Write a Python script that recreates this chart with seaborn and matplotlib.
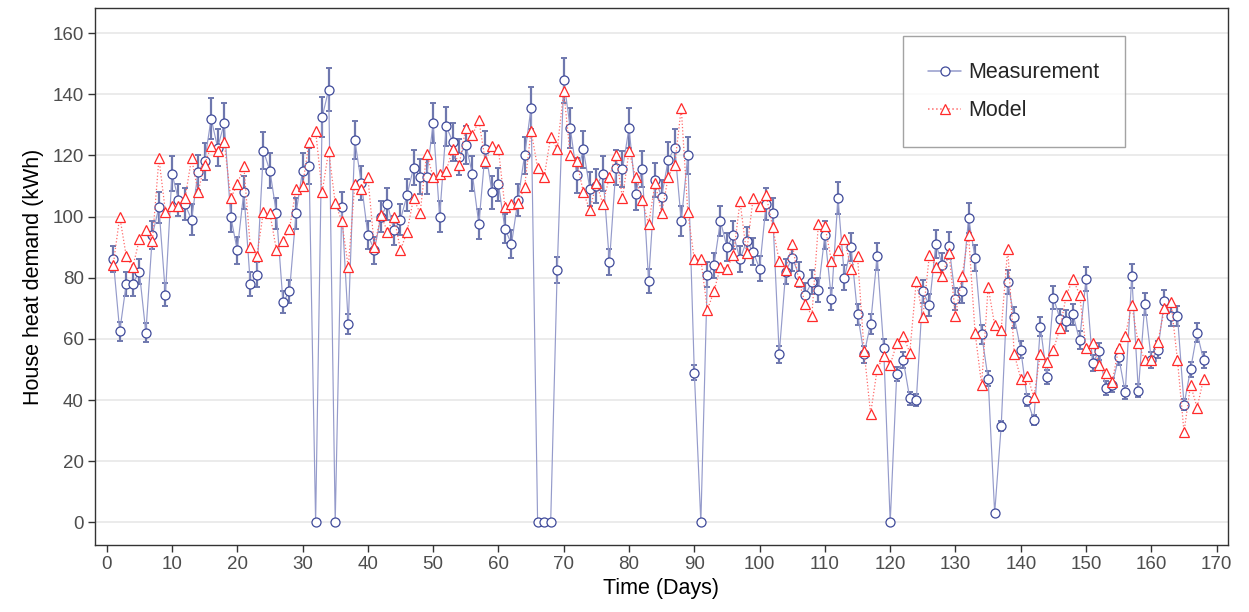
import numpy as np
import pandas as pd
import matplotlib
matplotlib.use("Agg")
import matplotlib.pyplot as plt
import seaborn as sns
from matplotlib.lines import Line2D

days = list(range(1, 169))

measurement = [
    86, 62.5, 78, 78, 82, 62, 94, 103, 74.5, 114,
    105.5, 104, 99, 114.5, 118, 132, 122.5, 130.5, 100, 89,
    108, 78, 81, 121.5, 115, 101, 72, 75.5, 101, 115,
    116.5, 0, 132.5, 141.5, 0, 103, 65, 125, 111, 94,
    89, 100, 104, 95.5, 99, 107, 116, 113, 113, 130.5,
    100, 129.5, 124.5, 119.5, 123.5, 114, 97.5, 122, 108, 110.5,
    96, 91, 105.5, 120, 135.5, 0, 0, 0, 82.5, 144.5,
    129, 113.5, 122, 109, 110, 114, 85, 116, 115.5, 129,
    107.5, 115.5, 79, 112, 106.5, 118.5, 122.5, 98.5, 120, 49,
    0, 81, 84, 98.5, 90, 94, 86, 92, 88.5, 83,
    104, 101, 55, 82, 86.5, 81, 74.5, 78.5, 76, 94,
    73, 106, 80, 90, 68, 55, 65, 87, 57, 0,
    48.5, 53, 40.5, 40, 75.5, 71, 91, 84, 90.5, 73,
    75.5, 99.5, 86.5, 61.5, 47, 3, 31.5, 78.5, 67, 56.5,
    40, 33.5, 64, 47.5, 73.5, 66.5, 66, 68, 59.5, 79.5,
    52, 56, 44, 45, 54, 42.5, 80.5, 43, 71.5, 53,
    56.5, 72.5, 67.5, 67.5, 38.5, 50, 62, 53,
]

model = [
    84, 100, 87, 83.5, 92.5, 95.5, 92, 119, 101.5, 103.5,
    103.5, 106, 119, 108, 117, 123, 121.5, 124.5, 106, 110.5,
    116.5, 90, 87, 101.5, 101, 89, 92, 96, 109, 110,
    124.5, 128, 108, 121.5, 104.5, 98.5, 83.5, 110.5, 109, 113,
    90, 100.5, 95, 100, 89, 95, 106, 101, 120.5, 113,
    114, 115, 122, 117, 129, 126.5, 131.5, 118, 123, 122,
    103, 104, 104.5, 109.5, 128, 116, 113, 126, 122, 141,
    120, 118, 108, 102, 111, 104, 113, 120, 106, 121.5,
    113, 105.5, 97.5, 111, 101, 113, 117, 135.5, 101.5, 86,
    86, 69.5, 75.5, 83.5, 83, 87.5, 105, 88, 106, 103.5,
    107, 96.5, 85.5, 82.5, 91, 79, 71.5, 67.5, 97.5, 97,
    85.5, 89, 92.5, 83, 87, 56, 35.5, 50, 54.5, 51.5,
    58.5, 61, 55.5, 79, 67, 87.5, 83.5, 80.5, 88, 67.5,
    80.5, 94, 62, 45, 77, 64.5, 63, 89.5, 55, 47,
    48, 41, 55, 52.5, 56.5, 63.5, 74.5, 79.5, 74.5, 57,
    58.5, 51.5, 49, 46, 57, 61, 71, 58.5, 53, 53,
    59, 70, 72, 53, 29.5, 45, 37.5, 47,
]

REL_ERR = 0.05  # relative measurement uncertainty shown by error bars

x_ticks = list(range(0, 171, 10))
y_ticks = list(range(0, 161, 20))

sns.set_theme(style="white")
plt.rcParams["font.family"] = ["Liberation Sans", "DejaVu Sans"]

df = pd.DataFrame({"Day": days, "Measurement": measurement, "Model": model})
df["err"] = df["Measurement"] * REL_ERR

fig = plt.figure(figsize=(12.49, 6.12), dpi=100)
ax = fig.add_axes([0.076, 0.109, 0.907, 0.878])

meas_line = "#959BCB"
meas_edge = "#3F4A9A"
err_col = "#6F78AE"
model_line = "#FF6B6B"
model_edge = "#FF2A2A"

ax.errorbar(df["Day"], df["Measurement"], yerr=df["err"], fmt="none",
            ecolor=err_col, elinewidth=1.6, capsize=2.5, capthick=1.4, zorder=2)

sns.lineplot(data=df, x="Day", y="Measurement", ax=ax, color=meas_line,
             linewidth=0.85, marker="o", markersize=6.5,
             markerfacecolor="white", markeredgecolor=meas_edge,
             markeredgewidth=0.9, zorder=3, legend=False)
sns.lineplot(data=df, x="Day", y="Model", ax=ax, color=model_line,
             linewidth=0.9, linestyle=":", marker="^", markersize=7.5,
             markerfacecolor="white", markeredgecolor=model_edge,
             markeredgewidth=0.9, zorder=4, legend=False)

ax.set_xlim(-1.8, 171.7)
ax.set_ylim(-7.5, 168.2)
ax.set_xticks(x_ticks)
ax.set_yticks(y_ticks)
ax.grid(axis="y", color="#EBEBEB", linewidth=1.4, zorder=0)
ax.grid(axis="x", visible=False)
ax.set_axisbelow(True)
for s in ax.spines.values():
    s.set_color("#333333")
    s.set_linewidth(1.0)
ax.tick_params(axis="both", which="major", direction="out", length=5, width=1.0,
               color="#333333", labelcolor="#4D4D4D", labelsize=13.5,
               bottom=True, left=True, pad=3)
ax.set_xlabel("Time (Days)", fontsize=15.5, color="black", labelpad=3)
ax.set_ylabel("House heat demand (kWh)", fontsize=15.5, color="black", labelpad=6)

handles = [
    Line2D([0], [0], color=meas_line, lw=1.1, marker="o", markersize=6.5,
           markerfacecolor="white", markeredgecolor=meas_edge, markeredgewidth=0.9),
    Line2D([0], [0], color=model_line, lw=1.1, linestyle=":", marker="^", markersize=7.5,
           markerfacecolor="white", markeredgecolor=model_edge, markeredgewidth=0.9),
]
leg = ax.legend(handles, ["Measurement", "Model"], loc="upper left",
                bbox_to_anchor=(0.713, 0.947), frameon=True, fancybox=False,
                edgecolor="#8C8C8C", fontsize=15.5, borderpad=1.2,
                labelspacing=0.8, handlelength=1.5, handletextpad=0.35,
                borderaxespad=0)
leg.get_frame().set_linewidth(1.0)

fig.savefig("out.png", dpi=100)
